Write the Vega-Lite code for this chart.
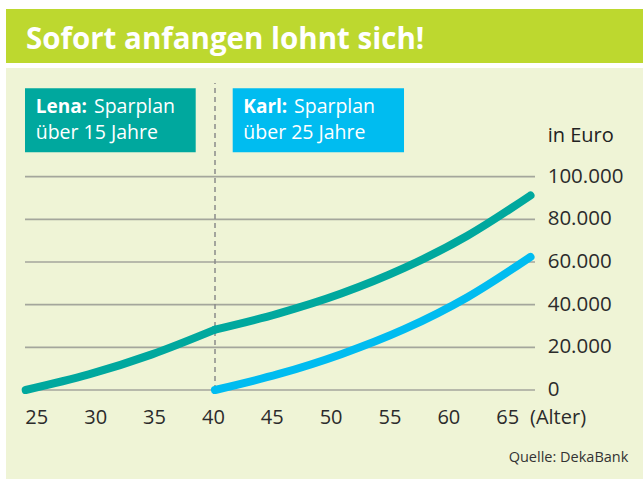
{
  "$schema": "https://vega.github.io/schema/vega-lite/v6.json",
  "autosize": {"type": "pad"},
  "padding": {"left": 6, "top": 9, "right": 0, "bottom": 0},
  "background": "white",
  "spacing": 5,
  "bounds": "flush",
  "config": {"font": "Open Sans", "view": {"stroke": null}, "locale": {"number": {"decimal": ",", "thousands": ".", "grouping": [3], "currency": ["", " €"]}}},
  "vconcat": [
    {
      "width": 637,
      "height": 54,
      "view": {"fill": "#bdd82f", "stroke": null},
      "data": {"values": [{"t": "Sofort anfangen lohnt sich!"}]},
      "mark": {"type": "text", "align": "left", "baseline": "alphabetic", "fontSize": 29.5, "fontWeight": "bold", "color": "white"},
      "encoding": {
        "text": {"field": "t"},
        "x": {"datum": 0.0314, "type": "quantitative", "scale": {"domain": [0, 1], "nice": false, "zero": false}, "axis": null},
        "y": {"datum": 0.2537, "type": "quantitative", "scale": {"domain": [0, 1], "nice": false, "zero": false}, "axis": null}
      }
    },
    {
      "width": 637,
      "height": 411,
      "view": {"fill": "#eff4d6", "stroke": null},
      "resolve": {"scale": {"x": "independent"}},
      "layer": [
        {
          "data": {"values": [{"wert": 0}, {"wert": 20000}, {"wert": 40000}, {"wert": 60000}, {"wert": 80000}, {"wert": 100000}]},
          "mark": {"type": "rule", "color": "#a4a69c", "strokeWidth": 1.7},
          "encoding": {
            "y": {"field": "wert", "type": "quantitative", "scale": {"domain": [-41719, 150938], "nice": false, "zero": false}, "axis": null},
            "x": {"datum": 24.04, "type": "quantitative", "scale": {"domain": [22.426, 76.536], "nice": false, "zero": false},
              "axis": {"orient": "bottom", "values": [25, 30, 35, 40, 45, 50, 55, 60, 65], "title": null, "domain": false, "ticks": false, "tickSize": 0, "grid": false, "labelPadding": 0, "labelBaseline": "middle", "offset": -61.5, "labelFontSize": 20, "labelColor": "#2b2b2b", "labelFlush": false, "labelOverlap": false}},
            "x2": {"datum": 67.362}
          }
        },
        {
          "layer": [
            {
              "data": {"values": [{"wert": 0}, {"wert": 20000}, {"wert": 40000}, {"wert": 60000}, {"wert": 80000}, {"wert": 100000}]},
              "mark": {"type": "text", "align": "left", "baseline": "middle", "fontSize": 20.5, "color": "#2b2b2b"},
              "encoding": {
                "text": {"field": "wert", "type": "quantitative", "format": ","},
                "x": {"datum": 66.36, "type": "quantitative", "scale": {"domain": [23.439, 73.914], "nice": false, "zero": false}, "axis": null},
                "y": {"field": "wert", "type": "quantitative", "scale": {"domain": [-41719, 150938], "nice": false, "zero": false}, "axis": null}
              }
            },
            {
              "data": {"values": [{"alter": 40}]},
              "mark": {"type": "rule", "color": "#8a8a8a", "strokeDash": [5, 4], "strokeWidth": 1.5},
              "encoding": {
                "x": {"field": "alter", "type": "quantitative", "scale": {"domain": [23.439, 73.914], "nice": false, "zero": false}, "axis": null},
                "y": {"datum": 0, "type": "quantitative", "scale": {"domain": [-41719, 150938], "nice": false, "zero": false}, "axis": null},
                "y2": {"datum": 143908}
              }
            },
            {
              "data": {"values": [
                {"person": "Lena", "phase": "Ansparen", "alter": 25, "wert": 0},
                {"person": "Lena", "phase": "Ansparen", "alter": 30, "wert": 7300},
                {"person": "Lena", "phase": "Ansparen", "alter": 35, "wert": 16700},
                {"person": "Lena", "phase": "Ansparen", "alter": 40, "wert": 28300},
                {"person": "Lena", "phase": "Wachstum", "alter": 40, "wert": 28300},
                {"person": "Lena", "phase": "Wachstum", "alter": 45, "wert": 35800},
                {"person": "Lena", "phase": "Wachstum", "alter": 50, "wert": 45200},
                {"person": "Lena", "phase": "Wachstum", "alter": 55, "wert": 57200},
                {"person": "Lena", "phase": "Wachstum", "alter": 60, "wert": 72300},
                {"person": "Lena", "phase": "Wachstum", "alter": 65, "wert": 91200},
                {"person": "Karl", "phase": "Ansparen", "alter": 40, "wert": 0},
                {"person": "Karl", "phase": "Ansparen", "alter": 45, "wert": 7400},
                {"person": "Karl", "phase": "Ansparen", "alter": 50, "wert": 16800},
                {"person": "Karl", "phase": "Ansparen", "alter": 55, "wert": 28500},
                {"person": "Karl", "phase": "Ansparen", "alter": 60, "wert": 43500},
                {"person": "Karl", "phase": "Ansparen", "alter": 65, "wert": 62400}
              ]},
              "mark": {"type": "line", "strokeWidth": 8, "strokeCap": "round", "strokeJoin": "round", "interpolate": "monotone"},
              "encoding": {
                "x": {"field": "alter", "type": "quantitative", "scale": {"domain": [23.439, 73.914], "nice": false, "zero": false}, "axis": null},
                "y": {"field": "wert", "type": "quantitative", "scale": {"domain": [-41719, 150938], "nice": false, "zero": false}, "axis": null},
                "color": {"field": "person", "type": "nominal", "scale": {"domain": ["Lena", "Karl"], "range": ["#00a89e", "#00bcf0"]}, "legend": null},
                "detail": {"field": "phase", "type": "nominal"}
              }
            },
            {
              "data": {"values": [{"person": "Lena"}]},
              "mark": {"type": "rect"},
              "encoding": {
                "x": {"datum": 24.945, "type": "quantitative", "scale": {"domain": [23.439, 73.914], "nice": false, "zero": false}, "axis": null},
                "x2": {"datum": 38.471},
                "y": {"datum": 141424, "type": "quantitative", "scale": {"domain": [-41719, 150938], "nice": false, "zero": false}, "axis": null},
                "y2": {"datum": 111424},
                "color": {"field": "person", "type": "nominal", "scale": {"domain": ["Lena", "Karl"], "range": ["#00a89e", "#00bcf0"]}, "legend": null}
              }
            },
            {
              "data": {"values": [{"person": "Karl"}]},
              "mark": {"type": "rect"},
              "encoding": {
                "x": {"datum": 41.403, "type": "quantitative", "scale": {"domain": [23.439, 73.914], "nice": false, "zero": false}, "axis": null},
                "x2": {"datum": 54.977},
                "y": {"datum": 141424, "type": "quantitative", "scale": {"domain": [-41719, 150938], "nice": false, "zero": false}, "axis": null},
                "y2": {"datum": 111424},
                "color": {"field": "person", "type": "nominal", "scale": {"domain": ["Lena", "Karl"], "range": ["#00a89e", "#00bcf0"]}, "legend": null}
              }
            },
            {
              "data": {"values": [{"t": "Lena:"}]},
              "mark": {"type": "text", "align": "left", "baseline": "alphabetic", "fontSize": 19, "fontWeight": "bold", "color": "white"},
              "encoding": {
                "text": {"field": "t"},
                "x": {"datum": 25.792, "type": "quantitative", "scale": {"domain": [23.439, 73.914], "nice": false, "zero": false}, "axis": null},
                "y": {"datum": 129706, "type": "quantitative", "scale": {"domain": [-41719, 150938], "nice": false, "zero": false}, "axis": null}
              }
            },
            {
              "data": {"values": [{"t": "Sparplan"}]},
              "mark": {"type": "text", "align": "left", "baseline": "alphabetic", "fontSize": 19.5, "color": "white"},
              "encoding": {
                "text": {"field": "t"},
                "x": {"datum": 30.41, "type": "quantitative", "scale": {"domain": [23.439, 73.914], "nice": false, "zero": false}, "axis": null},
                "y": {"datum": 129706, "type": "quantitative", "scale": {"domain": [-41719, 150938], "nice": false, "zero": false}, "axis": null}
              }
            },
            {
              "data": {"values": [{"t": "über 15 Jahre"}]},
              "mark": {"type": "text", "align": "left", "baseline": "alphabetic", "fontSize": 19.5, "color": "white"},
              "encoding": {
                "text": {"field": "t"},
                "x": {"datum": 25.792, "type": "quantitative", "scale": {"domain": [23.439, 73.914], "nice": false, "zero": false}, "axis": null},
                "y": {"datum": 117518, "type": "quantitative", "scale": {"domain": [-41719, 150938], "nice": false, "zero": false}, "axis": null}
              }
            },
            {
              "data": {"values": [{"t": "Karl:"}]},
              "mark": {"type": "text", "align": "left", "baseline": "alphabetic", "fontSize": 19, "fontWeight": "bold", "color": "white"},
              "encoding": {
                "text": {"field": "t"},
                "x": {"datum": 42.243, "type": "quantitative", "scale": {"domain": [23.439, 73.914], "nice": false, "zero": false}, "axis": null},
                "y": {"datum": 129706, "type": "quantitative", "scale": {"domain": [-41719, 150938], "nice": false, "zero": false}, "axis": null}
              }
            },
            {
              "data": {"values": [{"t": "Sparplan"}]},
              "mark": {"type": "text", "align": "left", "baseline": "alphabetic", "fontSize": 19.5, "color": "white"},
              "encoding": {
                "text": {"field": "t"},
                "x": {"datum": 46.26, "type": "quantitative", "scale": {"domain": [23.439, 73.914], "nice": false, "zero": false}, "axis": null},
                "y": {"datum": 129706, "type": "quantitative", "scale": {"domain": [-41719, 150938], "nice": false, "zero": false}, "axis": null}
              }
            },
            {
              "data": {"values": [{"t": "über 25 Jahre"}]},
              "mark": {"type": "text", "align": "left", "baseline": "alphabetic", "fontSize": 19.5, "color": "white"},
              "encoding": {
                "text": {"field": "t"},
                "x": {"datum": 42.243, "type": "quantitative", "scale": {"domain": [23.439, 73.914], "nice": false, "zero": false}, "axis": null},
                "y": {"datum": 117518, "type": "quantitative", "scale": {"domain": [-41719, 150938], "nice": false, "zero": false}, "axis": null}
              }
            },
            {
              "data": {"values": [{"t": "in Euro"}]},
              "mark": {"type": "text", "align": "left", "baseline": "middle", "fontSize": 20, "fontWeight": 500, "color": "#222222"},
              "encoding": {
                "text": {"field": "t"},
                "x": {"datum": 66.36, "type": "quantitative", "scale": {"domain": [23.439, 73.914], "nice": false, "zero": false}, "axis": null},
                "y": {"datum": 118831, "type": "quantitative", "scale": {"domain": [-41719, 150938], "nice": false, "zero": false}, "axis": null}
              }
            },
            {
              "data": {"values": [{"t": "(Alter)"}]},
              "mark": {"type": "text", "align": "left", "baseline": "middle", "fontSize": 20, "color": "#2b2b2b"},
              "encoding": {
                "text": {"field": "t"},
                "x": {"datum": 64.96, "type": "quantitative", "scale": {"domain": [23.439, 73.914], "nice": false, "zero": false}, "axis": null},
                "y": {"datum": -12891, "type": "quantitative", "scale": {"domain": [-41719, 150938], "nice": false, "zero": false}, "axis": null}
              }
            },
            {
              "data": {"values": [{"t": "Quelle: DekaBank"}]},
              "mark": {"type": "text", "align": "right", "baseline": "middle", "fontSize": 14.5, "color": "#333333"},
              "encoding": {
                "text": {"field": "t"},
                "x": {"datum": 72.75, "type": "quantitative", "scale": {"domain": [23.439, 73.914], "nice": false, "zero": false}, "axis": null},
                "y": {"datum": -31875, "type": "quantitative", "scale": {"domain": [-41719, 150938], "nice": false, "zero": false}, "axis": null}
              }
            }
          ]
        }
      ]
    }
  ]
}
